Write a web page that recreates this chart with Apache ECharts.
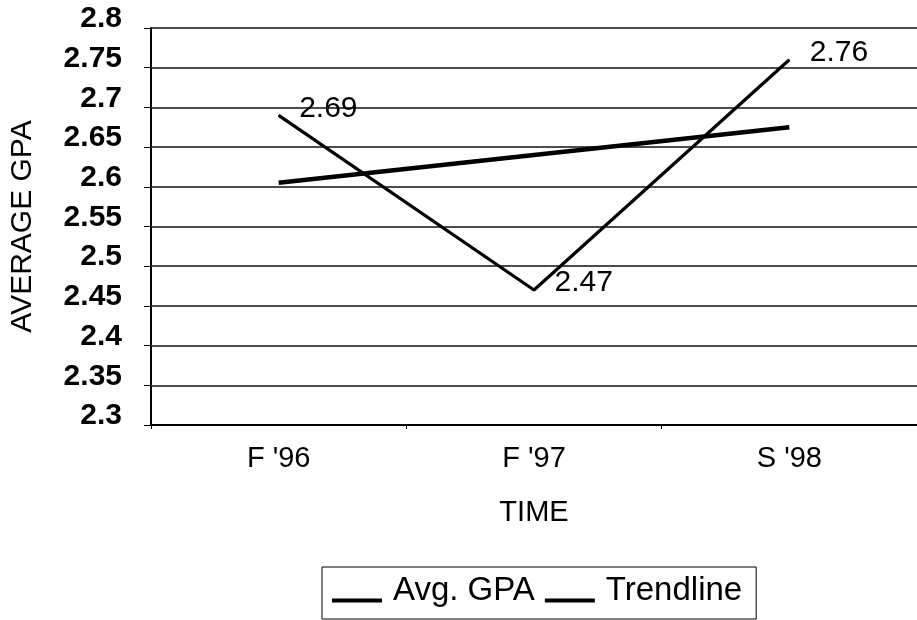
<!DOCTYPE html>
<html>
<head>
<meta charset="utf-8">
<script src="https://cdn.jsdelivr.net/npm/echarts@6/dist/echarts.min.js"></script>
<style>
  html, body { margin: 0; padding: 0; background: #fff; }
  #chart { width: 917px; height: 620px; }
</style>
</head>
<body>
<div id="chart"></div>
<script>
// Terms on the horizontal axis
const terms = ["F '96", "F '97", "S '98"];
// Average GPA per term
const avgGpa = [2.69, 2.47, 2.76];
// Linear trend through the three terms
const trendline = [2.605, 2.64, 2.675];
// Vertical axis range and step
const yMin = 2.3;
const yMax = 2.8;
const yStep = 0.05;

const FONT = "'Liberation Sans', Arial, sans-serif";
const INK = '#000';

// Legend key: a short bar sitting low in its box, near the text baseline
const LEGEND_KEY = 'path://M0,0L0.01,0L0.01,0.01L0,0.01Z M0,20L50,20L50,24L0,24Z';

const chart = echarts.init(document.getElementById('chart'), null, { renderer: 'canvas' });

chart.setOption({
  backgroundColor: '#fff',
  animation: false,
  textStyle: { fontFamily: FONT, color: INK },
  grid: { left: 148, top: 28, width: 772, height: 397, containLabel: false },
  legend: {
    left: 322,
    top: 567,
    orient: 'horizontal',
    data: ['Avg. GPA', 'Trendline'],
    icon: LEGEND_KEY,
    itemWidth: 50,
    itemHeight: 24,
    itemGap: 10,
    padding: [7, 14, 12, 10],
    borderColor: INK,
    borderWidth: 1,
    itemStyle: { borderWidth: 0 },
    textStyle: {
      fontFamily: FONT,
      fontSize: 33,
      color: INK,
      padding: [0, 0, 0, 6]
    }
  },
  xAxis: {
    type: 'category',
    data: terms,
    boundaryGap: true,
    name: 'TIME',
    nameLocation: 'middle',
    nameGap: 73,
    nameTextStyle: { fontFamily: FONT, fontSize: 29, color: INK },
    axisLine: { show: true, lineStyle: { color: INK, width: 2 } },
    axisTick: { show: true, length: 4, lineStyle: { color: INK, width: 1 } },
    axisLabel: { fontFamily: FONT, fontSize: 29, color: INK, margin: 19 },
    splitLine: { show: false }
  },
  yAxis: {
    type: 'value',
    min: yMin,
    max: yMax,
    interval: yStep,
    name: 'AVERAGE GPA',
    nameLocation: 'middle',
    nameGap: 113,
    nameRotate: 90,
    nameTextStyle: { fontFamily: FONT, fontSize: 30, color: INK },
    axisLine: { show: true, lineStyle: { color: INK, width: 2 } },
    axisTick: { show: true, length: 7, lineStyle: { color: INK, width: 1 } },
    axisLabel: {
      fontFamily: FONT,
      fontSize: 30,
      fontWeight: 'bold',
      color: INK,
      margin: 29,
      verticalAlign: 'bottom',
      lineHeight: 18,
      formatter: function (v) { return String(parseFloat(v.toFixed(2))); }
    },
    splitLine: { show: true, lineStyle: { color: '#111', width: 1.6 } }
  },
  series: [
    {
      name: 'Avg. GPA',
      type: 'line',
      data: avgGpa,
      symbol: 'circle',
      symbolSize: 1,
      showSymbol: true,
      itemStyle: { color: INK },
      lineStyle: { color: INK, width: 3.2 },
      label: {
        show: true,
        position: 'right',
        distance: 20,
        offset: [0, -7],
        fontFamily: FONT,
        fontSize: 30,
        color: INK
      },
      z: 3
    },
    {
      name: 'Trendline',
      type: 'line',
      data: trendline,
      symbol: 'none',
      itemStyle: { color: INK },
      lineStyle: { color: INK, width: 4.5 },
      z: 2
    }
  ]
});
</script>
</body>
</html>
